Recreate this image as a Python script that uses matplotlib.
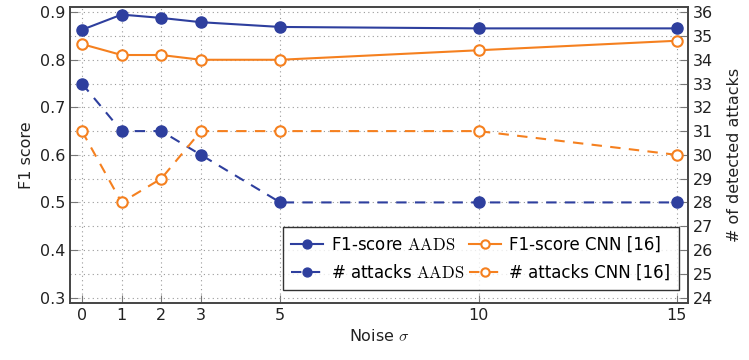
import matplotlib.pyplot as plt
from matplotlib.ticker import MultipleLocator

plt.rcParams['font.family'] = ['DejaVu Sans']
plt.rcParams['mathtext.fontset'] = 'cm'

# noise levels and measured results
noise = [0, 1, 2, 3, 5, 10, 15]
f1_aads = [0.863, 0.895, 0.888, 0.879, 0.869, 0.866, 0.866]
f1_cnn = [0.833, 0.810, 0.810, 0.800, 0.800, 0.820, 0.840]
att_aads = [33, 31, 31, 30, 28, 28, 28]
att_cnn = [31, 28, 29, 31, 31, 31, 30]

blue = '#2e3f9e'
orange = '#f5801f'

fig = plt.figure(figsize=(7.49, 3.6), dpi=100)
ax = fig.add_axes([0.0935, 0.159, 0.825, 0.8216])
ax2 = ax.twinx()

l1, = ax.plot(noise, f1_aads, '-', color=blue, lw=1.5, marker='o', ms=8,
              label=r'F1-score $\mathrm{AADS}$')
l2, = ax.plot(noise, f1_cnn, '-', color=orange, lw=1.5, marker='o', ms=7.5,
              mfc='white', mew=1.5, label='F1-score CNN [16]')
l3, = ax2.plot(noise, att_aads, '--', color=blue, lw=1.5, marker='o', ms=8,
               dashes=(5, 4), label=r'# attacks $\mathrm{AADS}$')
l4, = ax2.plot(noise, att_cnn, '--', color=orange, lw=1.5, marker='o', ms=7.5,
               mfc='white', mew=1.5, dashes=(5, 4), label='# attacks CNN [16]')

ax.set_xlim(-0.3, 15.28)
ax.set_ylim(0.289, 0.911)
ax2.set_ylim(23.78, 36.22)
ax.set_xticks(noise)
ax.yaxis.set_major_locator(MultipleLocator(0.1))
ax.yaxis.set_minor_locator(MultipleLocator(0.05))
ax2.yaxis.set_major_locator(MultipleLocator(1))

ax.grid(True, which='both', axis='y', ls=(0, (1, 3)), color='#999999', lw=0.8)
ax.grid(True, which='major', axis='x', ls=(0, (1, 3)), color='#999999', lw=0.8)
ax.set_axisbelow(True)

for a in (ax, ax2):
    a.tick_params(direction='in', labelsize=11.5, length=6, color='#777777',
                  labelcolor='#222222')
    a.tick_params(which='minor', length=0)
    for s in a.spines.values():
        s.set_color('#444444')
        s.set_linewidth(1.2)

ax.set_xlabel(r'Noise $\sigma$', fontsize=11.5, color='#222222')
ax.set_ylabel('F1 score', fontsize=11.5, color='#222222')
ax2.set_ylabel('# of detected attacks', fontsize=11.5, color='#222222', labelpad=10)

leg = ax2.legend(handles=[l1, l3, l2, l4], ncol=2, loc='lower right',
                 bbox_to_anchor=(0.985, 0.043), borderaxespad=0, fontsize=12,
                 frameon=True, fancybox=False, edgecolor='black',
                 handlelength=1.9, markerscale=0.8, columnspacing=0.3,
                 borderpad=0.5, labelspacing=0.6, handletextpad=0.5)
leg.get_frame().set_linewidth(1.0)

fig.savefig('out.png', dpi=100)
